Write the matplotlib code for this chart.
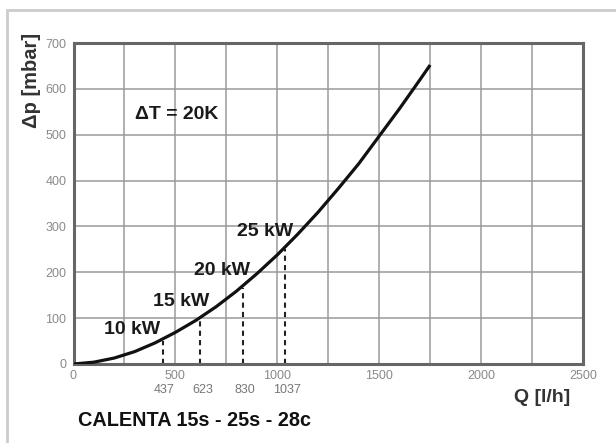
import matplotlib.pyplot as plt
from matplotlib.patches import Rectangle
from matplotlib.transforms import blended_transform_factory

plt.rcParams["font.family"] = ["Liberation Sans", "DejaVu Sans"]

# curve
FLOW = [0, 100, 200, 300, 400, 500, 600, 700, 800, 900, 1000,
        1100, 1200, 1300, 1400, 1500, 1600, 1700, 1750]
DP = [0, 4, 13, 27, 46, 69, 95, 125, 159, 197, 238,
      283, 331, 383, 437, 497, 557, 620, 652]

# marked operating points
MARK_FLOW = [437, 623, 830, 1037]
MARK_DP = [50, 100, 165, 250]
POWER_LABELS = ["10 kW", "15 kW", "20 kW", "25 kW"]
LABEL_POS = [(150, 76), (390, 136), (590, 203), (800, 290)]

X_TICKS = [0, 500, 1000, 1500, 2000, 2500]
Y_TICKS = [0, 100, 200, 300, 400, 500, 600, 700]

TICK_COLOR = "#8a8a8a"
GRID_COLOR = "#9a9a9a"

fig = plt.figure(figsize=(6.16, 4.43), dpi=100)
fig.patches.append(Rectangle((7 / 616, -0.1), 1.2, 1 - 10 / 443 + 0.1,
                             transform=fig.transFigure, fill=False,
                             edgecolor="#cccccc", linewidth=2))

ax = fig.add_axes([73.5 / 616, 79 / 443, 509.5 / 616, 321 / 443])

ax.plot(FLOW, DP, color="#111111", linewidth=2.3, solid_capstyle="butt",
        solid_joinstyle="round", zorder=3)
ax.vlines(MARK_FLOW, 0, MARK_DP, colors="#222222", linestyles=(0, (2.5, 2)),
          linewidth=1.5, zorder=2)

for label, (lx, ly) in zip(POWER_LABELS, LABEL_POS):
    ax.text(lx, ly, label, fontsize=14, fontweight="bold", color="#1a1a1a",
            ha="left", va="center")

ax.text(300, 543, "\u0394T = 20K", fontsize=14, fontweight="bold", color="#1a1a1a",
        ha="left", va="center")

ax.set_xlim(0, 2500)
ax.set_ylim(0, 700)
ax.set_xticks(range(0, 2501, 250))
ax.set_xticklabels([str(v) if v in X_TICKS else "" for v in range(0, 2501, 250)],
                   color=TICK_COLOR, fontsize=9)
ax.set_yticks(Y_TICKS)
ax.set_yticklabels([str(v) for v in Y_TICKS], color=TICK_COLOR, fontsize=9)
ax.tick_params(axis="both", length=0, pad=5)
ax.tick_params(axis="x", pad=4)
ax.grid(True, color=GRID_COLOR, linewidth=1.1)
ax.set_axisbelow(True)

for side, spine in ax.spines.items():
    spine.set_color("#666666")
    spine.set_linewidth(2.2)

trans = blended_transform_factory(ax.transData, ax.transAxes)
for q in MARK_FLOW:
    ax.text(q + 10, -0.063, str(q), transform=trans, fontsize=9, color="#777777",
            ha="center", va="top")

ax.text(0.92, -0.078, "Q [l/h]", transform=ax.transAxes, fontsize=14,
        fontweight="bold", color="#333333", ha="center", va="top")
ax.text(-0.083, 1.03, "\u0394p [mbar]", transform=ax.transAxes, fontsize=14.5,
        fontweight="bold", color="#333333", ha="center", va="top", rotation=90)

fig.text(78 / 616, 1 - 420 / 443, "CALENTA 15s - 25s - 28c", fontsize=14.3,
         fontweight="bold", color="#111111", ha="left", va="center")

fig.savefig("out.png", dpi=100)
